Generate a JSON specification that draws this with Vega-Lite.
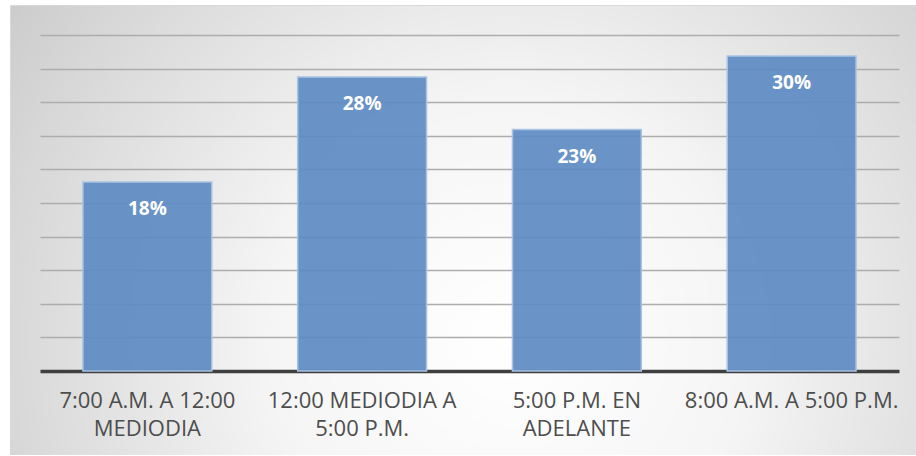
{
  "$schema": "https://vega.github.io/schema/vega-lite/v6.json",
  "autosize": "none",
  "width": 906,
  "height": 450,
  "padding": {"left": 10, "top": 5, "right": 0, "bottom": 0},
  "background": "#ffffff",
  "config": {
    "view": {
      "stroke": "#d9d9d9",
      "strokeWidth": 1,
      "fill": {
        "gradient": "radial",
        "x1": 0.55, "y1": 0.62, "r1": 0,
        "x2": 0.55, "y2": 0.62, "r2": 0.75,
        "stops": [
          {"offset": 0, "color": "#ffffff"},
          {"offset": 0.35, "color": "#f5f5f5"},
          {"offset": 0.75, "color": "#d7d7d7"},
          {"offset": 1, "color": "#c2c2c2"}
        ]
      }
    },
    "font": "Open Sans"
  },
  "data": {
    "values": [
      {"franja": "7:00 A.M. A 12:00\nMEDIODIA", "porcentaje": 0.18},
      {"franja": "12:00 MEDIODIA A\n5:00 P.M.", "porcentaje": 0.28},
      {"franja": "5:00 P.M. EN\nADELANTE", "porcentaje": 0.23},
      {"franja": "8:00 A.M. A 5:00 P.M.", "porcentaje": 0.30}
    ]
  },
  "encoding": {
    "x": {
      "field": "franja",
      "type": "nominal",
      "sort": null,
      "scale": {"range": [30, 889], "paddingInner": 0.4, "paddingOuter": 0.2},
      "axis": {
        "title": null,
        "orient": "bottom",
        "offset": -84,
        "labelAngle": 0,
        "labelExpr": "split(datum.label, '\\n')",
        "labelFontSize": 22,
        "labelColor": "#4d4d4d",
        "labelLineHeight": 28,
        "labelPadding": 19,
        "labelLimit": 300,
        "labelBaseline": "top",
        "ticks": false,
        "domainColor": "#3f3f3f",
        "domainWidth": 3.5,
        "grid": false
      }
    },
    "y": {
      "field": "porcentaje",
      "type": "quantitative",
      "scale": {"domain": [0, 0.32], "range": [366, 30], "nice": false, "zero": true},
      "axis": {
        "title": null,
        "labels": false,
        "ticks": false,
        "domain": false,
        "grid": true,
        "gridColor": "#adadad",
        "gridWidth": 1.5,
        "values": [0.032, 0.064, 0.096, 0.128, 0.16, 0.192, 0.224, 0.256, 0.288, 0.32]
      }
    }
  },
  "layer": [
    {
      "mark": {
        "type": "bar",
        "fill": "#5f8cc4",
        "fillOpacity": 0.93,
        "stroke": "#a9c3e3",
        "strokeWidth": 1.5
      }
    },
    {
      "mark": {
        "type": "text",
        "color": "#ffffff",
        "fontWeight": "bold",
        "fontSize": 19,
        "baseline": "middle",
        "align": "center",
        "dy": 27
      },
      "encoding": {
        "text": {"field": "porcentaje", "type": "quantitative", "format": ".0%"}
      }
    }
  ]
}
